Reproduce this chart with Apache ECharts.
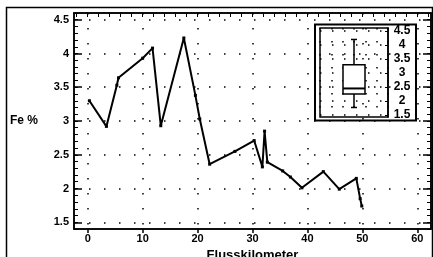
<!DOCTYPE html>
<html>
<head>
<meta charset="utf-8">
<script src="https://cdn.jsdelivr.net/npm/echarts@6/dist/echarts.min.js"></script>
<style>
  html, body { margin: 0; padding: 0; background: #fff; }
  #chart { width: 433px; height: 257px; }
</style>
</head>
<body>
<div id="chart"></div>
<script>
// Flusskilometer (x) und Fe-Gehalt in % (y)
const km = [0.3, 3.4, 5.3, 5.6, 10.0, 11.8, 13.3, 17.5, 19.6, 20.4, 22.2, 26.8, 30.3, 31.8, 32.2, 32.7, 35.5, 36.9, 39.0, 42.9, 45.8, 48.9, 49.6, 49.9];
const fe = [3.3, 2.92, 3.53, 3.64, 3.93, 4.08, 2.93, 4.23, 3.38, 3.03, 2.36, 2.55, 2.71, 2.32, 2.85, 2.39, 2.26, 2.17, 2.01, 2.25, 1.99, 2.15, 1.85, 1.74];
// Boxplot im Einschub: min, Q1, Median, Q3, max
const boxStats = [1.77, 2.25, 2.45, 3.3, 4.2];
const xTicks = [0, 10, 20, 30, 40, 50, 60];
const xTopTicks = [-2, 0, 2, 4, 6, 8, 10, 12, 14, 16, 18, 20, 22, 24, 26, 28, 30, 32, 34, 36, 38, 40, 42, 44, 46, 48, 50, 52, 54, 56, 58, 60, 62];
const yTicks = [1.5, 2, 2.5, 3, 3.5, 4, 4.5];

const labelFont = { fontFamily: 'Liberation Sans, Arial', fontWeight: 'bold', fontSize: 11, color: '#000' };
const dotted = { color: '#000', width: 1.5, type: [1.5, 13.5] };
const solidLine = { show: true, onZero: false, lineStyle: { color: '#000', width: 1.5 } };
const hidden = { axisLabel: { show: false }, axisLine: { show: false, onZero: false }, splitLine: { show: false } };

const chart = echarts.init(document.getElementById('chart'));

// Boxplot mit schmalen Whisker-Enden als custom series
function renderBox(params, api) {
  const x = api.value(0);
  const lo = api.coord([x, api.value(1)]);
  const q1 = api.coord([x, api.value(2)]);
  const med = api.coord([x, api.value(3)]);
  const q3 = api.coord([x, api.value(4)]);
  const hi = api.coord([x, api.value(5)]);
  const cx = lo[0], bw = 22, cw = 6;
  const st = { stroke: '#000', lineWidth: 1.5, fill: null };
  return {
    type: 'group',
    children: [
      { type: 'line', shape: { x1: cx, y1: hi[1], x2: cx, y2: q3[1] }, style: st },
      { type: 'line', shape: { x1: cx, y1: q1[1], x2: cx, y2: lo[1] }, style: st },
      { type: 'line', shape: { x1: cx - cw / 2, y1: hi[1], x2: cx + cw / 2, y2: hi[1] }, style: st },
      { type: 'line', shape: { x1: cx - cw / 2, y1: lo[1], x2: cx + cw / 2, y2: lo[1] }, style: st },
      { type: 'rect', shape: { x: cx - bw / 2, y: q3[1], width: bw, height: q1[1] - q3[1] }, style: { stroke: '#000', lineWidth: 1.5, fill: '#fff' } },
      { type: 'line', shape: { x1: cx - bw / 2, y1: med[1], x2: cx + bw / 2, y2: med[1] }, style: { stroke: '#000', lineWidth: 2 } }
    ]
  };
}

const option = {
  animation: false,
  backgroundColor: '#fff',
  grid: [
    { left: 74, top: 13, right: 2, bottom: 28, outerBoundsMode: 'none', containLabel: false, show: true, borderColor: '#000', borderWidth: 1.5 },
    { left: 320, top: 28, width: 68, height: 89, outerBoundsMode: 'none', containLabel: false, show: true, borderColor: '#000', borderWidth: 1.5, backgroundColor: '#fff' }
  ],
  graphic: [
    { type: 'rect', shape: { x: 6.5, y: 7.5, width: 426, height: 252 }, style: { fill: null, stroke: '#000', lineWidth: 1.5 }, silent: true },
    { type: 'rect', shape: { x: 315, y: 24.5, width: 101, height: 96 }, style: { fill: null, stroke: '#000', lineWidth: 2 }, silent: true, z: 10 }
  ],
  xAxis: [
    {
      gridIndex: 0, type: 'value', position: 'bottom', min: -2.5, max: 62.5,
      axisLabel: { ...labelFont, margin: 4, customValues: xTicks },
      axisTick: { inside: false, length: 4, lineStyle: { width: 1.5 }, customValues: xTicks },
      axisLine: solidLine,
      splitLine: { show: true, lineStyle: dotted },
      name: 'Flusskilometer', nameLocation: 'middle', nameGap: 13,
      nameTextStyle: { fontFamily: 'Liberation Sans, Arial', fontWeight: 'bold', fontSize: 13, color: '#000' }
    },
    {
      gridIndex: 0, type: 'value', position: 'top', min: -2.5, max: 62.5,
      axisLabel: { show: false },
      axisTick: { inside: true, length: 4, lineStyle: { color: '#000' }, customValues: xTopTicks },
      axisLine: solidLine,
      splitLine: { show: false }
    },
    {
      gridIndex: 1, type: 'value', min: 0, max: 1,
      axisTick: { show: false }, ...hidden
    },
    {
      gridIndex: 1, type: 'value', min: 0, max: 6, interval: 1,
      axisLabel: { show: false }, axisTick: { show: false },
      axisLine: { show: false, onZero: false },
      splitLine: { show: true, lineStyle: { color: '#000', width: 1.5, type: [1.5, 11.5] } }
    }
  ],
  yAxis: [
    {
      gridIndex: 0, type: 'value', position: 'left', min: 1.4, max: 4.6,
      axisLabel: { ...labelFont, margin: 5, customValues: yTicks },
      axisTick: { inside: true, length: 8, lineStyle: { width: 1.5 }, customValues: yTicks },
      axisLine: solidLine,
      splitLine: { show: true, lineStyle: dotted },
      name: 'Fe %', nameLocation: 'middle', nameRotate: 0, nameGap: 36,
      nameTextStyle: { fontFamily: 'Liberation Sans, Arial', fontWeight: 'bold', fontSize: 12, color: '#000' }
    },
    {
      gridIndex: 0, type: 'value', position: 'right', min: 1.4, max: 4.6,
      axisLabel: { show: false },
      axisTick: { inside: true, length: 8, lineStyle: { width: 1.5 }, customValues: yTicks },
      axisLine: solidLine,
      splitLine: { show: false }
    },
    {
      // Nebenstriche links, alle 0.1
      gridIndex: 0, type: 'value', position: 'left', min: 1.4, max: 4.6, interval: 0.1,
      axisTick: { inside: true, length: 4, lineStyle: { color: '#000' } }, ...hidden
    },
    {
      // Nebenstriche rechts, alle 0.1
      gridIndex: 0, type: 'value', position: 'right', min: 1.4, max: 4.6, interval: 0.1,
      axisTick: { inside: true, length: 4, lineStyle: { color: '#000' } }, ...hidden
    },
    {
      gridIndex: 1, type: 'value', position: 'right', min: 1.43, max: 4.61,
      axisLabel: { ...labelFont, fontSize: 12, align: 'center', margin: 14, customValues: yTicks },
      axisTick: { inside: true, length: 3, customValues: yTicks },
      axisLine: solidLine,
      splitLine: { show: true, lineStyle: { color: '#000', width: 1.5, type: [1.5, 10.5] } }
    }
  ],
  series: [
    {
      type: 'line',
      xAxisIndex: 0, yAxisIndex: 0,
      data: km.map((k, i) => [k, fe[i]]),
      symbol: 'rect', symbolSize: 3,
      lineStyle: { color: '#000', width: 2 },
      itemStyle: { color: '#000' }
    },
    {
      type: 'custom',
      xAxisIndex: 2, yAxisIndex: 4,
      renderItem: renderBox,
      data: [[0.5, ...boxStats]],
      z: 5
    }
  ]
};

chart.setOption(option);
</script>
</body>
</html>
